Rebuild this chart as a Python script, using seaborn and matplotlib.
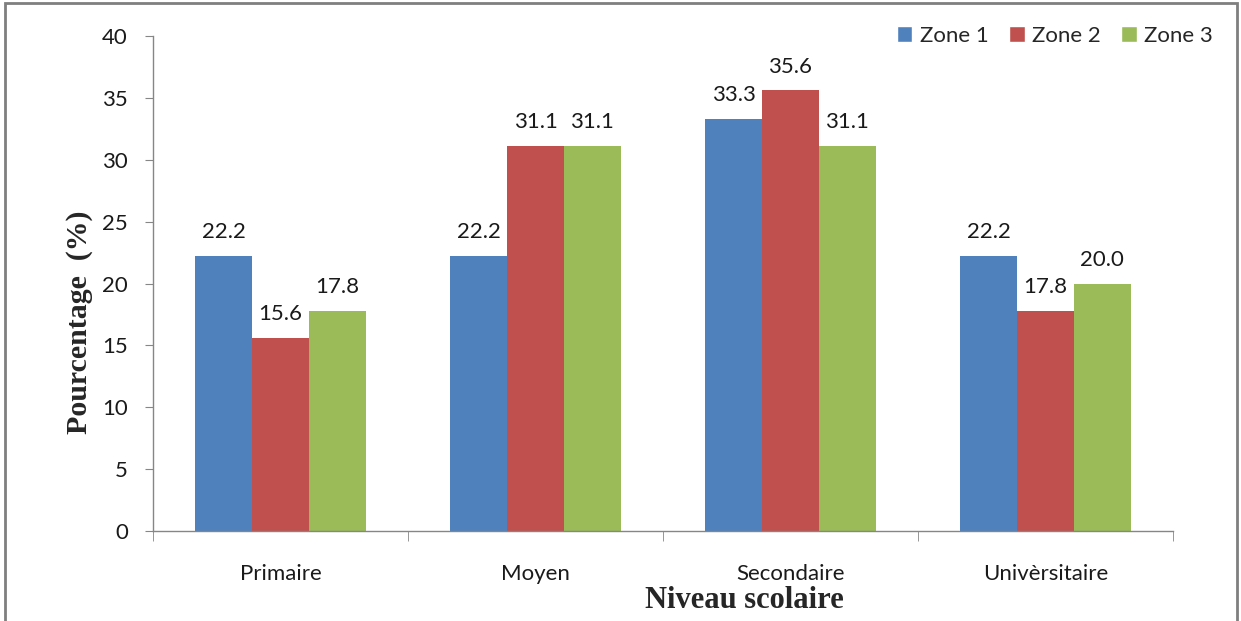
import matplotlib
matplotlib.use("Agg")
import matplotlib.pyplot as plt
import seaborn as sns
import pandas as pd
from matplotlib.patches import Rectangle, Patch

categories = ["Primaire", "Moyen", "Secondaire", "Univèrsitaire"]
zones = ["Zone 1", "Zone 2", "Zone 3"]
zone1 = [22.2, 22.2, 33.3, 22.2]
zone2 = [15.6, 31.1, 35.6, 17.8]
zone3 = [17.8, 31.1, 31.1, 20.0]
colors = ["#4F81BD", "#C0504D", "#9BBB59"]

rows = []
for z, vals in zip(zones, [zone1, zone2, zone3]):
    for c, v in zip(categories, vals):
        rows.append({"Niveau": c, "Zone": z, "Pct": v})
df = pd.DataFrame(rows)

sns.set_style("white")
plt.rcParams["font.family"] = ["Lato", "DejaVu Sans"]

fig = plt.figure(figsize=(12.41, 6.21), dpi=100)
ax = fig.add_axes([153/1241, 1-531/621, (1173-153)/1241, (531-36)/621])

sns.barplot(data=df, x="Niveau", y="Pct", hue="Zone", palette=colors,
            width=0.667, gap=0, ax=ax, legend=False, saturation=1, linewidth=0)

for cont in ax.containers:
    ax.bar_label(cont, fmt="%.1f", padding=10, fontsize=16, color="#1a1a1a")

ax.set_ylim(0, 40)
ax.set_xlim(-0.5, 3.5)
ax.set_yticks(range(0, 41, 5))
ax.set_xlabel("")
ax.set_ylabel("")
for s in ["top", "right"]:
    ax.spines[s].set_visible(False)
for s in ["left", "bottom"]:
    ax.spines[s].set_color("#868686")
    ax.spines[s].set_linewidth(1)

ax.tick_params(axis="y", which="major", length=6, color="#868686", labelsize=16, pad=12,
               left=True, labelcolor="#1a1a1a")
ax.set_xticks([-0.5, 0.5, 1.5, 2.5, 3.5], minor=True)
ax.tick_params(axis="x", which="minor", length=7, color="#868686", bottom=True)
ax.tick_params(axis="x", which="major", length=0, labelsize=16, pad=24, labelcolor="#1a1a1a")

fig.text(80/1241, 1-322/621, "Pourcentage  (%)", rotation=90, ha="center", va="center",
         fontsize=21.5, fontweight="bold", family="Liberation Serif")
fig.text(744/1241, 1-601/621, "Niveau scolaire", ha="center", va="center",
         fontsize=22, fontweight="bold", family="Liberation Serif")

handles = [Patch(facecolor=c, label=z) for c, z in zip(colors, zones)]
fig.legend(handles=handles, loc="center", bbox_to_anchor=(1055/1241, 1-36/621), ncol=3,
           frameon=False, fontsize=16, handlelength=0.7, handleheight=0.7,
           handletextpad=0.35, columnspacing=0.9)

fig.patches.append(Rectangle((5/1241, -0.01), (1237-5)/1241, 1-3/621+0.01,
                             transform=fig.transFigure, fill=False,
                             edgecolor="#7f7f7f", linewidth=2))

fig.savefig("out.png", dpi=100)
